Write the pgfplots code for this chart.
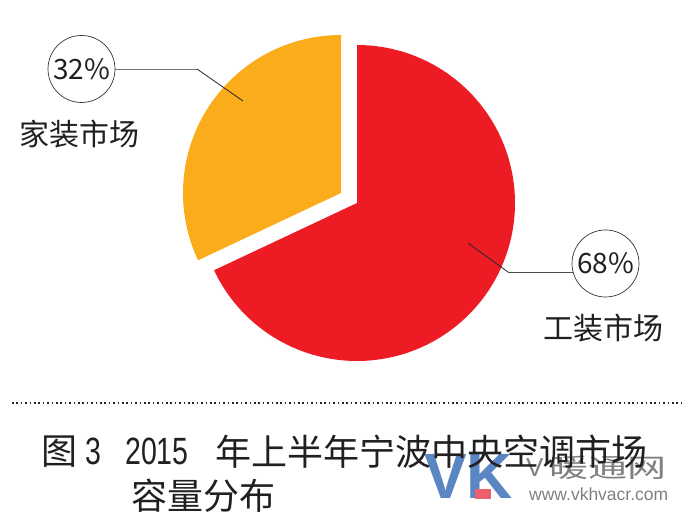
\documentclass[border=0pt]{standalone}
\usepackage{fontspec}
\usepackage{graphicx}
\usepackage{pgfplots}
\pgfplotsset{compat=1.18}
\setmainfont{Noto Sans CJK SC}
\newfontfamily\capdig[FakeStretch=0.75]{Liberation Sans}
\newfontfamily\wmfont{Liberation Sans}
\definecolor{pieRed}{HTML}{ED1C24}
\definecolor{pieOrange}{HTML}{FAAC1A}
\definecolor{txt}{HTML}{231F20}
\definecolor{wmBlue}{HTML}{5B86C4}
\definecolor{wmRed}{HTML}{EC5F6C}
\definecolor{wmGray}{HTML}{808080}
% shares (percent)
\def\shareWork{68}
\def\shareHome{32}
\begin{document}
\begin{tikzpicture}
\pgfmathsetmacro{\angWork}{90-3.6*\shareWork}
\pgfmathsetmacro{\angHome}{90+3.6*\shareHome}
\begin{axis}[hide axis, scale only axis, width=691bp, height=521bp,
  xmin=0, xmax=691, ymin=-521, ymax=0, clip=false]
% red slice (work market 68%)
\addplot[fill=pieRed, draw=none, domain=\angWork:90, samples=200, variable=\t]
  ({357+158*cos(t)},{-203+158*sin(t)}) -- (axis cs:357,-203) -- cycle;
% orange slice (home market 32%), exploded
\addplot[fill=pieOrange, draw=none, domain=90:\angHome, samples=120, variable=\t]
  ({341+158*cos(t)},{-193+158*sin(t)}) -- (axis cs:341,-193) -- cycle;
% leader lines
\addplot[draw=black!55, line width=0.9bp] coordinates {(197,-69) (115,-69)};
\addplot[draw=black!85, line width=0.8bp] coordinates {(243,-101) (197,-69)};
\addplot[draw=black!85, line width=0.8bp] coordinates {(468,-243) (508,-272)};
\addplot[draw=black!70, line width=0.8bp] coordinates {(508,-272) (573,-272)};
% value circles
\node[draw=black!80, line width=0.7bp, circle, minimum size=67bp, inner sep=0pt, text=txt,
  font=\fontsize{28bp}{30bp}\selectfont] at (axis cs:81.5,-69) {32\%};
\node[draw=black!80, line width=0.7bp, circle, minimum size=67bp, inner sep=0pt, text=txt,
  font=\fontsize{28bp}{30bp}\selectfont] at (axis cs:605.5,-263.5) {68\%};
% category labels
\node[text=txt, inner sep=0pt, font=\fontsize{30bp}{32bp}\selectfont] at (axis cs:79,-134) {家装市场};
\node[text=txt, inner sep=0pt, font=\fontsize{30bp}{32bp}\selectfont] at (axis cs:603.5,-328.5) {工装市场};
% dotted separator
\draw[black!85, line width=1.6bp, dash pattern=on 1.6bp off 2.8bp] (axis cs:12,-403) -- (axis cs:684,-403);
% watermark
\node[anchor=west, inner sep=0pt, text=wmBlue, font=\wmfont\bfseries\fontsize{64bp}{66bp}\selectfont]
  at (axis cs:424,-476) {VK};
\fill[wmRed] (axis cs:475,-489) rectangle (axis cs:491,-499);
\node[anchor=west, inner sep=0pt, text=wmGray, font=\wmfont\fontsize{26bp}{28bp}\selectfont]
  at (axis cs:526,-468) {V};
\node[anchor=west, inner sep=0pt, text=wmGray, font=\fontsize{26bp}{28bp}\selectfont]
  at (axis cs:549,-468) {\scalebox{1.5}[1]{暖通网}};
\node[anchor=west, inner sep=0pt, text=wmGray, font=\wmfont\fontsize{17.5bp}{19bp}\selectfont]
  at (axis cs:529,-494) {www.vkhvacr.com};
% caption
\node[anchor=west, inner sep=0pt, text=txt, font=\fontsize{36bp}{38bp}\selectfont] at (axis cs:41,-452) {图};
\node[anchor=west, inner sep=0pt, text=txt, font=\capdig\fontsize{38bp}{40bp}\selectfont] at (axis cs:85,-451) {3};
\node[anchor=west, inner sep=0pt, text=txt, font=\capdig\fontsize{38bp}{40bp}\selectfont] at (axis cs:125,-451) {2015};
\node[anchor=west, inner sep=0pt, text=txt, font=\fontsize{36bp}{38bp}\selectfont] at (axis cs:215,-452) {年上半年宁波中央空调市场};
\node[anchor=west, inner sep=0pt, text=txt, font=\fontsize{36bp}{38bp}\selectfont] at (axis cs:131,-495.5) {容量分布};
\end{axis}
\pgfresetboundingbox
\path[use as bounding box] (current axis.south west) rectangle (current axis.north east);
\end{tikzpicture}
\end{document}
